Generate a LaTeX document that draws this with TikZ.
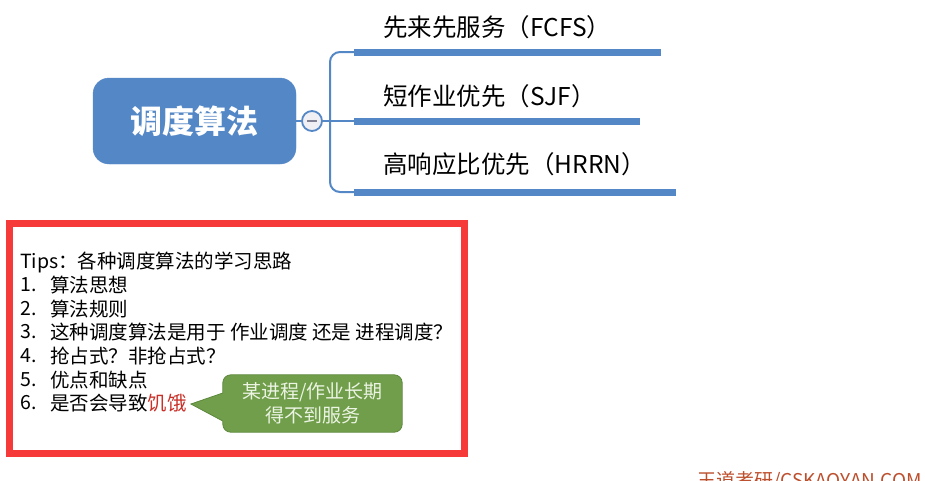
\documentclass[tikz,border=0pt]{standalone}
\usepackage{fontspec}
\setmainfont{Noto Sans CJK SC}
\usetikzlibrary{calc,backgrounds}
\definecolor{mapblue}{RGB}{84,135,198}
\definecolor{foldfill}{RGB}{240,240,244}
\definecolor{foldmark}{RGB}{130,130,150}
\definecolor{framered}{RGB}{246,58,58}
\definecolor{notegreen}{RGB}{112,158,74}
\definecolor{noteedge}{RGB}{92,136,60}
\definecolor{notetext}{RGB}{236,244,228}
\definecolor{hungerred}{RGB}{200,48,40}
\definecolor{markbrown}{RGB}{188,78,44}
\tikzset{
  rootbox/.style ={fill=mapblue, draw=mapblue, rounded corners=16pt, minimum width=203pt, minimum height=86pt, inner sep=0pt, text=white, font=\fontsize{32}{36}\selectfont\bfseries},
  fold/.style    ={circle, draw=mapblue, line width=1.8pt, fill=foldfill, minimum size=20pt, inner sep=0pt},
  link/.style    ={draw=mapblue, line width=2pt},
  bar/.style     ={draw=mapblue, line width=7pt, line cap=butt},
  topic/.style   ={anchor=west, inner sep=0pt, font=\fontsize{24.5}{28}\selectfont},
  tip/.style     ={anchor=west, inner sep=0pt, font=\fontsize{19.5}{22}\selectfont},
  notebox/.style ={minimum width=179pt, minimum height=57pt, inner sep=0pt, align=center, text=notetext, font=\fontsize{19}{24}\selectfont},
  notebody/.style={fill=notegreen, draw=noteedge, line width=0.8pt},
}
\begin{document}
\begin{tikzpicture}[x=1pt,y=-1pt]
  \useasboundingbox (0,0) rectangle (925,480);
  \clip (0,0) rectangle (925,480);
  % mind map
  \node[rootbox] (root) at (194.5,121) {调度算法};
  \node[fold] (fold) at (312,121) {};
  \draw[foldmark,line width=1.5pt] ($(fold)+(-5,0)$) -- ($(fold)+(5,0)$);
  \coordinate (b1) at (354,52);
  \coordinate (b2) at (354,121);
  \coordinate (b3) at (354,192);
  \draw[link] (root.east) -- (fold.west);
  \draw[link] (fold.east) -- (b2);
  \draw[link,rounded corners=10pt] (b1) -- (330,52) -- (330,192) -- (b3);
  \draw[bar] (b1) -- (661,52);
  \draw[bar] (b2) -- (640,121);
  \draw[bar] (b3) -- (676,192);
  \node[topic] (t1) at (383,27) {先来先服务（FCFS）};
  \node[topic] (t2) at (383,96) {短作业优先（SJF）};
  \node[topic] (t3) at (383,164) {高响应比优先（HRRN）};
  % tips
  \draw[framered,line width=7pt] (9.5,223.5) rectangle (464.5,453.5);
  \node[tip] (tips) at (20,262) {Tips：各种调度算法的学习思路};
  \node[tip] (n1) at (20,285) {1.};
  \node[tip] (l1) at (50,285) {算法思想};
  \node[tip] (n2) at (20,309) {2.};
  \node[tip] (l2) at (50,309) {算法规则};
  \node[tip] (n3) at (20,332) {3.};
  \node[tip] (l3) at (50,332) {这种调度算法是用于 作业调度 还是 进程调度？};
  \node[tip] (n4) at (20,356) {4.};
  \node[tip] (l4) at (50,356) {抢占式？非抢占式？};
  \node[tip] (n5) at (20,380) {5.};
  \node[tip] (l5) at (50,380) {优点和缺点};
  \node[tip] (n6) at (20,403) {6.};
  \node[tip] (l6) at (50,403) {是否会导致{\color{hungerred}饥饿}};
  \coordinate (poke) at ($(l6.east)+(4,1)$);
  \node[notebox] (note) at (312.5,403.5) {某进程/作业长期\\得不到服务};
  \begin{scope}[on background layer]
    \filldraw[notebody] ($(note.west)+(0,-10.5)$) [rounded corners=8pt] -- (note.north west) -- (note.north east) -- (note.south east) -- (note.south west) [sharp corners] -- ($(note.west)+(0,17.5)$) -- (poke) -- cycle;
  \end{scope}
  \node[anchor=base west,inner sep=0pt,text=markbrown,font=\fontsize{19}{22}\selectfont] (mark) at (697,487) {王道考研/CSKAOYAN.COM};
\end{tikzpicture}
\end{document}
